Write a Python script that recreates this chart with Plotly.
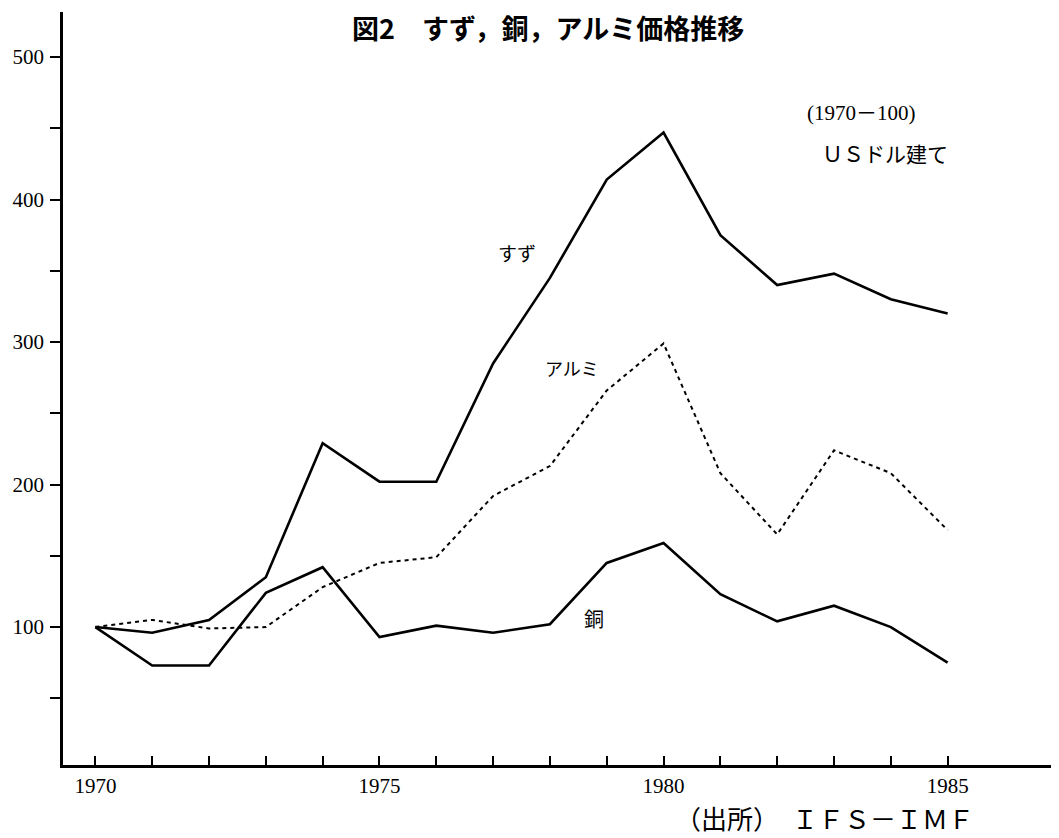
import plotly.graph_objects as go

years = list(range(1970, 1986))
tin = [100, 96, 105, 135, 229, 202, 202, 285, 345, 414, 447, 375, 340, 348, 330, 320]
copper = [100, 73, 73, 124, 142, 93, 101, 96, 102, 145, 159, 123, 104, 115, 100, 75]
aluminum = [100, 105, 99, 100, 128, 145, 149, 192, 213, 266, 299, 208, 165, 224, 208, 168]

y_tickvals = [50, 100, 150, 200, 250, 300, 350, 400, 450, 500]
y_ticktext = ["", "100", "", "200", "", "300", "", "400", "", "500"]
x_tickvals = years
x_ticktext = [str(y) if y in (1970, 1975, 1980, 1985) else "" for y in years]

title_text = "図2　すず，銅，アルミ価格推移"
source_text = "（出所）　ＩＦＳ－ＩＭＦ"
note1 = "(1970－100)"
note2 = "ＵＳドル建て"
label_tin = "すず"
label_al = "アルミ"
label_cu = "銅"

OFF = 8  # page body margin
W, H = 1059 - OFF, 838 - OFF
L, R, T, B = 63 - OFF, 0, 12 - OFF, 838 - 765
pw, ph = W - L - R, H - T - B

def px(x):
    return (x - OFF - L) / pw

def py(y):
    return (H - B - (y - OFF)) / ph

fig = go.Figure()
fig.add_trace(go.Scatter(x=years, y=tin, mode="lines",
                         line=dict(color="black", width=2.6), name="すず"))
fig.add_trace(go.Scatter(x=years, y=copper, mode="lines",
                         line=dict(color="black", width=2.6), name="銅"))
fig.add_trace(go.Scatter(x=years, y=aluminum, mode="lines",
                         line=dict(color="black", width=2, dash="4px,4px"), name="アルミ"))

serif = "Liberation Serif, Times New Roman, serif"
cjk = "Noto Sans CJK JP"

fig.update_layout(
    width=W, height=H,
    margin=dict(l=L, r=R, t=T, b=B),
    paper_bgcolor="white", plot_bgcolor="white",
    showlegend=False,
    xaxis=dict(
        range=[1969.43, 1986.96],
        tickvals=x_tickvals, ticktext=x_ticktext,
        ticks="inside", ticklen=9, tickwidth=1.5, tickcolor="black",
        showline=True, linecolor="black", linewidth=2.5,
        showgrid=False, zeroline=False,
        tickfont=dict(family=serif, size=21, color="black"),
        ticklabelstandoff=0,
    ),
    yaxis=dict(
        range=[3.2, 531.6],
        tickvals=y_tickvals, ticktext=y_ticktext,
        ticks="outside", ticklen=10, tickwidth=1.5, tickcolor="black",
        showline=True, linecolor="black", linewidth=2.5,
        showgrid=False, zeroline=False,
        tickfont=dict(family=serif, size=21, color="black"),
        ticklabelstandoff=2,
    ),
)

annotations = [
    dict(text="<b>" + title_text + "</b>", x=px(548), y=py(28), xref="paper", yref="paper",
         showarrow=False, xanchor="center", yanchor="middle",
         font=dict(family=cjk, size=27, color="black")),
    dict(text=source_text, x=px(824), y=py(817), xref="paper", yref="paper",
         showarrow=False, xanchor="center", yanchor="middle",
         font=dict(family=cjk, size=26, color="black")),
    dict(text=note1, x=1983.48, y=460.7, xref="x", yref="y",
         showarrow=False, xanchor="center", yanchor="middle",
         font=dict(family=serif + ", " + cjk, size=21, color="black")),
    dict(text=note2, x=1983.89, y=432.6, xref="x", yref="y",
         showarrow=False, xanchor="center", yanchor="middle",
         font=dict(family=cjk, size=21, color="black")),
    dict(text=label_tin, x=1977.42, y=362.5, xref="x", yref="y",
         showarrow=False, xanchor="center", yanchor="middle",
         font=dict(family=cjk, size=19, color="black")),
    dict(text=label_al, x=1978.39, y=281.8, xref="x", yref="y",
         showarrow=False, xanchor="center", yanchor="middle",
         font=dict(family=cjk, size=18, color="black")),
    dict(text=label_cu, x=1978.78, y=106.3, xref="x", yref="y",
         showarrow=False, xanchor="center", yanchor="middle",
         font=dict(family=cjk, size=20, color="black")),
]
fig.update_layout(annotations=annotations)

fig.write_html("out.html")
